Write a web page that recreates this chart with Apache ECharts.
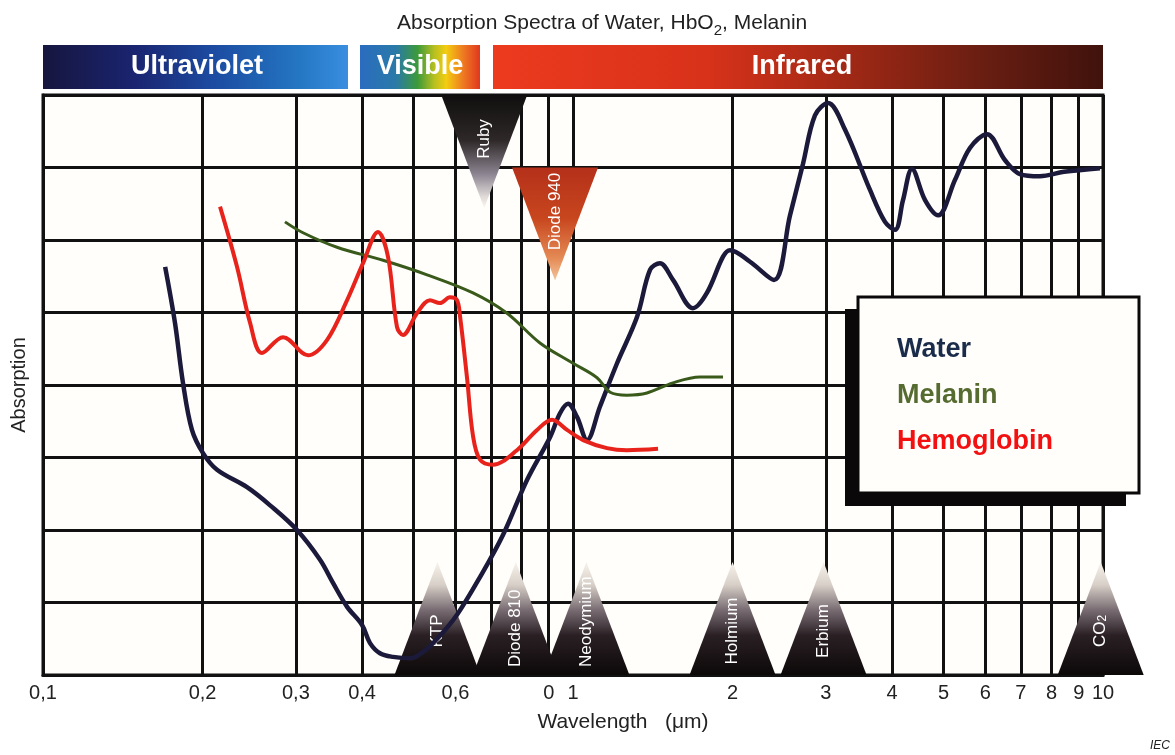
<!DOCTYPE html>
<html><head><meta charset="utf-8">
<script src="https://cdn.jsdelivr.net/npm/echarts@6/dist/echarts.min.js"></script>
<style>html,body{margin:0;padding:0;background:#fff}#chart{width:1175px;height:755px}</style>
</head><body><div id="chart"></div>
<script>
// ---- data (wavelength in µm, absorption in grid units) ----
const waterWavelength = [0.170,0.1774,0.1837,0.1910,0.2004,0.2130,0.2426,0.2682,0.3014,0.3332,0.3525,0.3748,0.3999,0.414,0.4323,0.4574,0.4928,0.5259,0.561,0.6042,0.6676,0.7377,0.8189,0.9050,0.9452,0.9786,1.0175,1.0627,1.124,1.211,1.321,1.398,1.459,1.544,1.684,1.789,1.919,1.978,2.158,2.394,2.567,2.716,2.861,3.028,3.261,3.634,3.879,4.051,4.194,4.361,4.616,4.884,5.258,5.61,6.04,6.535,6.97,7.60,8.44,9.87];
const waterAbsorption = [5.63,4.86,4.03,3.38,3.06,2.83,2.59,2.34,2.00,1.59,1.27,0.94,0.69,0.44,0.30,0.25,0.23,0.34,0.54,0.83,1.35,1.93,2.69,3.28,3.61,3.74,3.56,3.24,3.70,4.30,4.94,5.59,5.68,5.45,5.06,5.27,5.77,5.86,5.70,5.45,6.34,7.05,7.72,7.89,7.52,6.69,6.25,6.14,6.55,6.98,6.55,6.34,6.83,7.27,7.46,7.10,6.91,6.88,6.94,6.99];

const hemoWavelength = [0.2158,0.2323,0.2458,0.2589,0.2837,0.3162,0.3434,0.3748,0.4017,0.4286,0.4476,0.4655,0.4778,0.5077,0.5372,0.561,0.5860,0.6042,0.6121,0.6310,0.6476,0.6676,0.7063,0.7838,0.8554,0.9129,0.9743,1.0445,1.159,1.264,1.447];
const hemoAbsorption = [6.46,5.63,4.86,4.44,4.66,4.41,4.62,5.17,5.68,6.11,5.77,4.80,4.69,4.99,5.17,5.13,5.21,5.17,4.95,4.10,3.30,2.97,2.90,3.10,3.38,3.52,3.38,3.24,3.13,3.10,3.12];

const melaninWavelength = [0.2861,0.3094,0.3587,0.4381,0.5304,0.6476,0.7508,0.8663,1.0,1.110,1.175,1.264,1.379,1.544,1.736,1.919];
const melaninAbsorption = [6.25,6.10,5.90,5.72,5.52,5.27,4.99,4.58,4.30,4.10,3.90,3.86,3.89,4.03,4.11,4.11];

const tickValues = [0.1,0.2,0.3,0.4,0.6,0.9,1,2,3,4,5,6,7,8,9,10];
const tickLabels = ['0,1','0,2','0,3','0,4','0,6','0','1','2','3','4','5','6','7','8','9','10'];
const gridValues = [0.1,0.2,0.3,0.4,0.5,0.6,0.7,0.8,0.9,1,2,3,4,5,6,7,8,9,10];

const laserNames = ['KTP','Diode 810','Neodymium','Holmium','Erbium','CO2','Ruby','Diode 940'];
const laserWavelengths = [0.555,0.78,1.06,2.0,2.97,9.9,0.68,0.925];
const laserBase = [0,0,0,0,0,0,8,7];

const seriesNames = ['Water','Melanin','Hemoglobin'];
const seriesColors = ['#1c1a3a','#3a5a1c','#e8231c'];
const legendColors = ['#1b2c4a','#566b30','#f21010'];

// ---- chart ----
const FONT = '"Liberation Sans", Arial, sans-serif';
const chart = echarts.init(document.getElementById('chart'));
const measureCtx = document.createElement('canvas').getContext('2d');
measureCtx.font = '17px ' + FONT;

function labelFor(v) {
  let best = 0, bd = Infinity;
  tickValues.forEach((t, i) => { const d = Math.abs(Math.log10(t) - Math.log10(v)); if (d < bd) { bd = d; best = i; } });
  return tickLabels[best];
}

function renderLaser(params, api) {
  const i = api.value(2);
  const name = laserNames[i];
  const base = api.coord([api.value(0), api.value(1)]);
  const up = api.value(1) === 0;
  const dir = up ? 1 : -1;
  const h = 113, w = 86;
  const points = [[base[0] - w / 2, base[1]], [base[0] + w / 2, base[1]], [base[0], base[1] - dir * h]];
  let fill;
  if (up) {
    fill = new echarts.graphic.LinearGradient(0, 0, 0, 1, [
      {offset: 0, color: '#f7f3ec'}, {offset: 0.2, color: '#d8d0c8'}, {offset: 0.42, color: '#7a6e74'},
      {offset: 0.65, color: '#2a2024'}, {offset: 1, color: '#0c0808'}]);
  } else if (name === 'Ruby') {
    fill = new echarts.graphic.LinearGradient(0, 0, 0, 1, [
      {offset: 0, color: '#100e0e'}, {offset: 0.4, color: '#2e2828'}, {offset: 0.7, color: '#8c8490'},
      {offset: 0.9, color: '#e0dad8'}, {offset: 1, color: '#faf6ee'}]);
  } else {
    fill = new echarts.graphic.LinearGradient(0, 0, 0, 1, [
      {offset: 0, color: '#b4301a'}, {offset: 0.45, color: '#c8461e'}, {offset: 0.8, color: '#e48a54'},
      {offset: 1, color: '#f4c49c'}]);
  }
  const text = name === 'CO2' ? 'CO{s|2}' : name;
  const len = measureCtx.measureText(name).width;
  const off = up ? Math.min(44, 8 + len / 2) : 44;
  const cy = up ? Math.min(base[1] - 44, base[1] - 8 - len / 2) : base[1] + 44;
  return {
    type: 'group',
    children: [
      {type: 'polygon', shape: {points: points}, style: {fill: fill}},
      {type: 'text', x: base[0], y: cy, rotation: Math.PI / 2,
        style: {text: text, fill: '#ffffff', fontSize: 17, fontFamily: FONT,
          align: 'center', verticalAlign: 'middle', textAlign: 'center', textVerticalAlign: 'middle',
          rich: {s: {fontSize: 12, fill: '#ffffff', fontFamily: FONT, verticalAlign: 'bottom'}}}}
    ]
  };
}

function lineSeries(name, xs, ys, color, width) {
  return {
    type: 'line', name: name, data: xs.map((x, i) => [x, ys[i]]),
    showSymbol: false, smooth: 0.35, z: 4,
    lineStyle: {color: color, width: width}, itemStyle: {color: color}
  };
}

const option = {
  animation: false,
  backgroundColor: '#ffffff',
  textStyle: {fontFamily: FONT},
  title: {
    text: 'Absorption Spectra of Water, HbO{s|2}, Melanin',
    left: 392, top: 4,
    textStyle: {fontSize: 21, fontWeight: 'normal', color: '#222', fontFamily: FONT, lineHeight: 29,
      rich: {s: {fontSize: 15, color: '#222', fontFamily: FONT, verticalAlign: 'bottom'}}}
  },
  grid: {left: 43, right: 72, top: 95, bottom: 80, show: true, borderColor: '#111', borderWidth: 3, backgroundColor: '#fffefb'},
  legend: {
    orient: 'vertical', left: 887, top: 331, itemGap: 19, itemWidth: 0, itemHeight: 0, icon: 'rect',
    selectedMode: false, z: 10,
    textStyle: {fontSize: 27, fontWeight: 'bold', fontFamily: FONT},
    data: seriesNames.map((n, i) => ({name: n, textStyle: {color: legendColors[i]}}))
  },
  xAxis: {
    type: 'log', logBase: 10, min: 0.1, max: 10,
    name: 'Wavelength   (μm)', nameLocation: 'middle', nameGap: 37,
    nameTextStyle: {fontSize: 21, color: '#222', padding: [0, 0, 0, 100]},
    axisLine: {show: true, lineStyle: {color: '#111', width: 3}},
    axisTick: {show: false, customValues: gridValues},
    axisLabel: {customValues: tickValues, formatter: labelFor, fontSize: 20, color: '#222', margin: 8},
    splitLine: {show: true, lineStyle: {color: '#111', width: 3}},
    minorTick: {show: false}, minorSplitLine: {show: false}
  },
  yAxis: {
    type: 'value', min: 0, max: 8, interval: 1,
    name: 'Absorption', nameLocation: 'middle', nameGap: 14, nameRotate: 90,
    nameTextStyle: {fontSize: 20, color: '#222'},
    axisLine: {show: true, lineStyle: {color: '#111', width: 3}},
    axisTick: {show: false}, axisLabel: {show: false},
    splitLine: {show: true, lineStyle: {color: '#111', width: 3}}
  },
  graphic: [
    {type: 'rect', z: 1, shape: {x: 43, y: 45, width: 305, height: 44},
      style: {fill: new echarts.graphic.LinearGradient(0, 0, 1, 0, [
        {offset: 0, color: '#16163e'}, {offset: 0.3, color: '#1a2470'}, {offset: 0.55, color: '#1c4aa0'},
        {offset: 0.85, color: '#2478c4'}, {offset: 1, color: '#3a8ee0'}])}},
    {type: 'rect', z: 1, shape: {x: 360, y: 45, width: 120, height: 44},
      style: {fill: new echarts.graphic.LinearGradient(0, 0, 1, 0, [
        {offset: 0, color: '#2a6cc0'}, {offset: 0.3, color: '#2a7aa8'}, {offset: 0.48, color: '#3c9a3a'},
        {offset: 0.62, color: '#b8c020'}, {offset: 0.72, color: '#f4cc10'}, {offset: 0.86, color: '#ee7a22'},
        {offset: 1, color: '#e0381e'}])}},
    {type: 'rect', z: 1, shape: {x: 493, y: 45, width: 610, height: 44},
      style: {fill: new echarts.graphic.LinearGradient(0, 0, 1, 0, [
        {offset: 0, color: '#ec3a1e'}, {offset: 0.35, color: '#d8321a'}, {offset: 0.55, color: '#a82a16'},
        {offset: 0.8, color: '#6a1e12'}, {offset: 1, color: '#40120c'}])}},
    {type: 'text', z: 2, style: {text: 'Ultraviolet', x: 197, y: 67, fill: '#fff', font: 'bold 27px ' + FONT, textAlign: 'center', textVerticalAlign: 'middle'}},
    {type: 'text', z: 2, style: {text: 'Visible', x: 420, y: 67, fill: '#fff', font: 'bold 27px ' + FONT, textAlign: 'center', textVerticalAlign: 'middle'}},
    {type: 'text', z: 2, style: {text: 'Infrared', x: 802, y: 67, fill: '#fff', font: 'bold 27px ' + FONT, textAlign: 'center', textVerticalAlign: 'middle'}},
    {type: 'rect', z: 8, shape: {x: 845, y: 309, width: 281, height: 197}, style: {fill: '#0a0808'}},
    {type: 'rect', z: 9, shape: {x: 858, y: 297, width: 281, height: 196}, style: {fill: '#fffefb', stroke: '#0a0808', lineWidth: 3}},
    {type: 'text', z: 2, style: {text: 'IEC', x: 1170, y: 746, fill: '#222', font: 'italic 12px ' + FONT, textAlign: 'right', textVerticalAlign: 'middle'}}
  ],
  series: [
    {type: 'custom', name: 'lasers', renderItem: renderLaser, clip: false, silent: true, z: 3,
      data: laserNames.map((n, i) => [laserWavelengths[i], laserBase[i], i])},
    lineSeries('Water', waterWavelength, waterAbsorption, seriesColors[0], 4.5),
    lineSeries('Melanin', melaninWavelength, melaninAbsorption, seriesColors[1], 3),
    lineSeries('Hemoglobin', hemoWavelength, hemoAbsorption, seriesColors[2], 4)
  ]
};
chart.setOption(option);
</script></body></html>
